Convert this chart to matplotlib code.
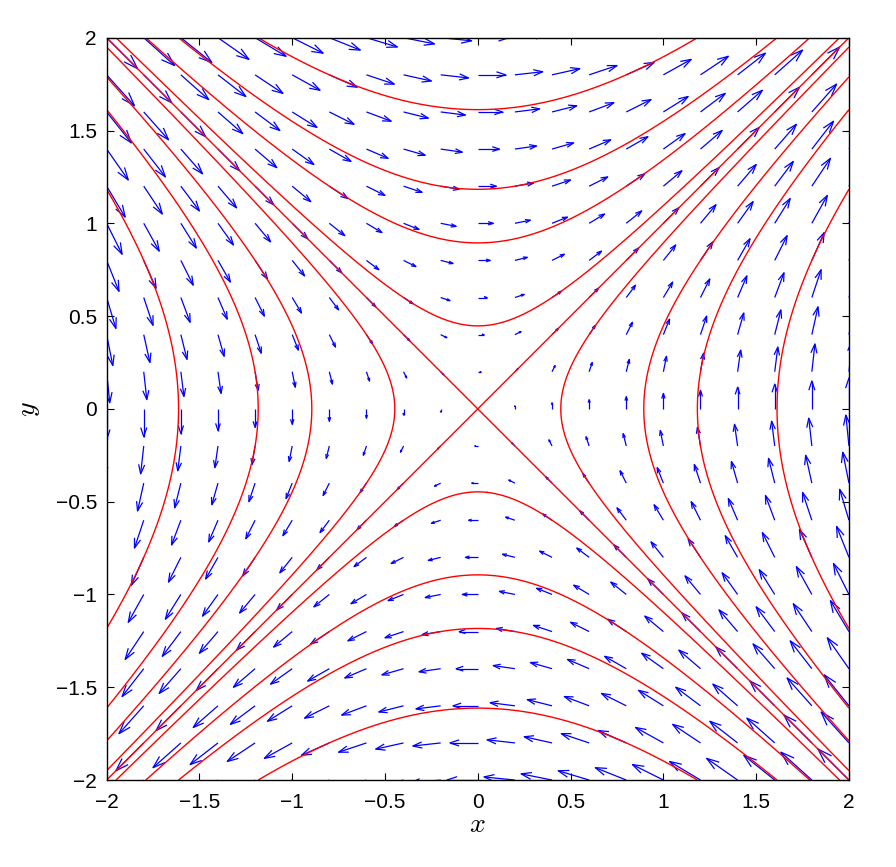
import numpy as np
import matplotlib
matplotlib.use("Agg")
import matplotlib.pyplot as plt
from matplotlib.collections import LineCollection

plt.rcParams['font.family'] = ['Liberation Sans', 'DejaVu Sans']
plt.rcParams['mathtext.fontset'] = 'cm'

# grid of the direction field (step 0.2 on [-2, 2])
grid_x = np.linspace(-2, 2, 21)
grid_y = np.linspace(-2, 2, 21)

# levels of H = x^2 - y^2 drawn as trajectories
levels = [-2.6, -1.4, -0.8, -0.2, 0.0, 0.2, 0.8, 1.4, 2.6]

ticks = [-2, -1.5, -1, -0.5, 0, 0.5, 1, 1.5, 2]
tick_labels = ['\u22122', '\u22121.5', '\u22121', '\u22120.5', '0', '0.5', '1', '1.5', '2']

# system: x' = y, y' = x
X, Y = np.meshgrid(grid_x, grid_y)
U = Y
V = X

fig = plt.figure(figsize=(8.96, 8.67), dpi=100)
ax = fig.add_axes([0.119, 0.1003, 0.8285, 0.8562])

# matlab-style quiver: open arrow heads, head size proportional to length
scale = 1 / 12.0
u = U.ravel() * scale
v = V.ravel() * scale
x0 = X.ravel()
y0 = Y.ravel()
alpha, beta = 0.33, 0.33
tipx, tipy = x0 + u, y0 + v
segs = []
for i in range(len(x0)):
    segs.append([(x0[i], y0[i]), (tipx[i], tipy[i])])
    segs.append([(tipx[i] - alpha * (u[i] + beta * v[i]), tipy[i] - alpha * (v[i] - beta * u[i])),
                 (tipx[i], tipy[i]),
                 (tipx[i] - alpha * (u[i] - beta * v[i]), tipy[i] - alpha * (v[i] + beta * u[i]))])
ax.add_collection(LineCollection(segs, colors='#0000ff', linewidths=0.9))

# trajectories (level curves)
xf = np.linspace(-2, 2, 801)
Xf, Yf = np.meshgrid(xf, xf)
ax.contour(Xf, Yf, Xf**2 - Yf**2, levels=levels, colors='#ff0000',
           linewidths=1.0, linestyles='solid')

ax.set_xlim(-2, 2)
ax.set_ylim(-2, 2)
ax.set_xticks(ticks)
ax.set_xticklabels(tick_labels)
ax.set_yticks(ticks)
ax.set_yticklabels(tick_labels)
ax.tick_params(direction='in', top=True, right=True, length=5, width=0.8,
               labelsize=15, pad=9)
ax.tick_params(axis='y', pad=7)
for s in ax.spines.values():
    s.set_linewidth(1.0)

ax.set_xlabel('$x$', fontsize=20, labelpad=0)
ax.set_ylabel('$y$', fontsize=20, labelpad=10)

fig.savefig('out.png', dpi=100)
